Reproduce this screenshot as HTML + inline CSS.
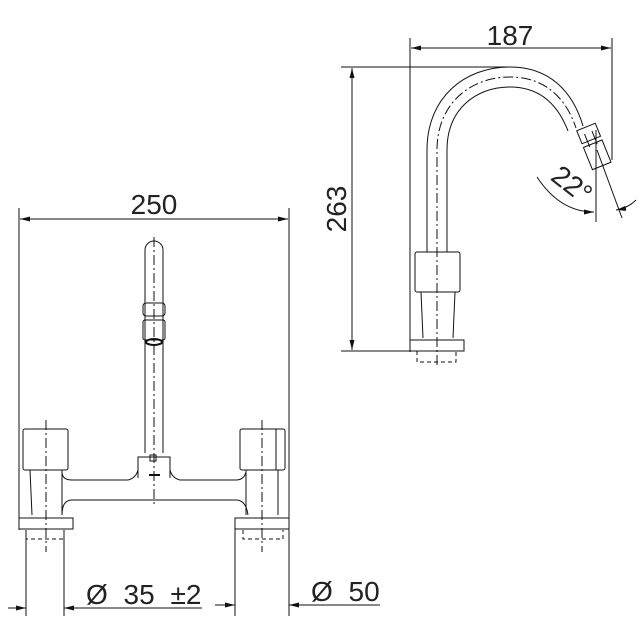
<!DOCTYPE html>
<html><head><meta charset="utf-8"><style>html,body{margin:0;padding:0;background:#fff}svg{display:block}</style></head>
<body>
<svg width="640" height="622" viewBox="0 0 640 622" xmlns="http://www.w3.org/2000/svg" fill="none" stroke="#111" stroke-width="1">
<defs>
<marker id="a" markerWidth="10" markerHeight="5" refX="10" refY="2.5" orient="auto-start-reverse" markerUnits="userSpaceOnUse"><path d="M0,0 L10,2.5 L0,5 z" fill="#111" stroke="none"/></marker>
</defs>
<g font-family="Liberation Sans, sans-serif" font-size="28" fill="#222" stroke="none">
<text x="154" y="214" text-anchor="middle">250</text>
<text x="510" y="45" text-anchor="middle">187</text>
<text transform="translate(346,209) rotate(-90)" text-anchor="middle">263</text>
<text transform="translate(566,192) rotate(38)" text-anchor="middle">22°</text>
<text x="86" y="604" word-spacing="8">Ø 35 ±2</text>
<text x="311" y="601" word-spacing="8">Ø 50</text>
</g>
<line x1="19" y1="208" x2="19" y2="530"/>
<line x1="289" y1="208" x2="289" y2="616"/>
<line x1="20" y1="219" x2="288" y2="219" marker-start="url(#a)" marker-end="url(#a)"/>
<line x1="26" y1="530" x2="26" y2="616"/><line x1="64" y1="530" x2="64" y2="616"/>
<line x1="235" y1="528" x2="235" y2="616"/>
<line x1="8" y1="608" x2="26" y2="608" marker-end="url(#a)"/>
<line x1="202" y1="608" x2="64" y2="608" marker-end="url(#a)"/>
<line x1="215" y1="605" x2="235" y2="605" marker-end="url(#a)"/>
<line x1="380" y1="605" x2="289" y2="605" marker-end="url(#a)"/>
<path d="M145,453 L145,250 A9,9 0 0 1 163,250 L163,453"/>
<rect x="143" y="303" width="22" height="13" rx="3"/>
<rect x="143" y="320" width="22" height="20" rx="2"/>
<ellipse cx="154" cy="342" rx="8" ry="3" stroke-width="2"/>
<path d="M138,478 L138,457 L170,457 L170,478"/>
<rect x="150" y="455" width="6" height="6"/>
<line x1="149" y1="475" x2="160" y2="475" stroke-width="2"/>
<line x1="154" y1="237" x2="154" y2="505" stroke-dasharray="10,3,2,3"/>
<rect x="23" y="429" width="45" height="41" rx="2"/>
<rect x="240" y="429" width="45" height="41" rx="2"/>
<line x1="276" y1="429" x2="276" y2="470"/>
<line x1="46" y1="420" x2="46" y2="552" stroke-dasharray="10,3,2,3"/>
<line x1="262" y1="420" x2="262" y2="552" stroke-dasharray="10,3,2,3"/>
<path d="M62,472 Q62,480 72,480 L128,480 Q136,478 138,470"/>
<path d="M170,470 Q172,478 180,480 L236,480 Q244,480 246,472"/>
<path d="M62,515 Q62,500 72,500 L236,500 Q246,500 248,515"/>
<path d="M30,470 L32,515 M62,470 L62,515"/>
<path d="M246,470 L246,515 M278,470 L278,515"/>
<rect x="19" y="518" width="54" height="11"/>
<rect x="235" y="518" width="54" height="11"/>
<path d="M26,530 L26,539 L64,539 L64,530" stroke-dasharray="4,3"/>
<path d="M243,530 L243,539 L283,539 L283,530" stroke-dasharray="4,3"/>
<line x1="410" y1="38" x2="410" y2="352"/>
<line x1="612" y1="38" x2="612" y2="160"/>
<line x1="411" y1="48" x2="611" y2="48" marker-start="url(#a)" marker-end="url(#a)"/>
<line x1="341" y1="67" x2="510" y2="67"/>
<line x1="341" y1="351" x2="410" y2="351"/>
<line x1="352" y1="68" x2="352" y2="350" marker-start="url(#a)" marker-end="url(#a)"/>
<path d="M427,252 L427,150 C427,97 465,67 510,67 C550,67 573,92 583,126"/>
<path d="M447,252 L447,150 C447,110 475,87 510,87 C540,87 558,105 568,131"/>
<path d="M437,365 L437,150 C437,104 470,77 510,77 C545,77 566,98 576,128" stroke-dasharray="10,3,2,3"/>
<g transform="translate(586,127) rotate(-22)">
<rect x="-10" y="0" width="20" height="14"/>
<rect x="-10" y="18" width="20" height="24"/>
<line x1="-4" y1="6" x2="-4" y2="20"/><line x1="4" y1="6" x2="4" y2="20"/>
</g>
<line x1="596" y1="130" x2="596" y2="222"/>
<line x1="597" y1="150" x2="622" y2="218"/>
<path d="M537,177 Q560,212 594,212" marker-end="url(#a)"/>
<path d="M636,200 Q628,208 616,210" marker-end="url(#a)"/>
<rect x="415" y="252" width="45" height="40" rx="2"/>
<path d="M421,292 L423,338 M455,292 L453,338"/>
<rect x="410" y="340" width="54" height="11"/>
<path d="M417,351 L417,362 L456,362 L456,351" stroke-dasharray="4,3"/>
</svg>
</body></html>
